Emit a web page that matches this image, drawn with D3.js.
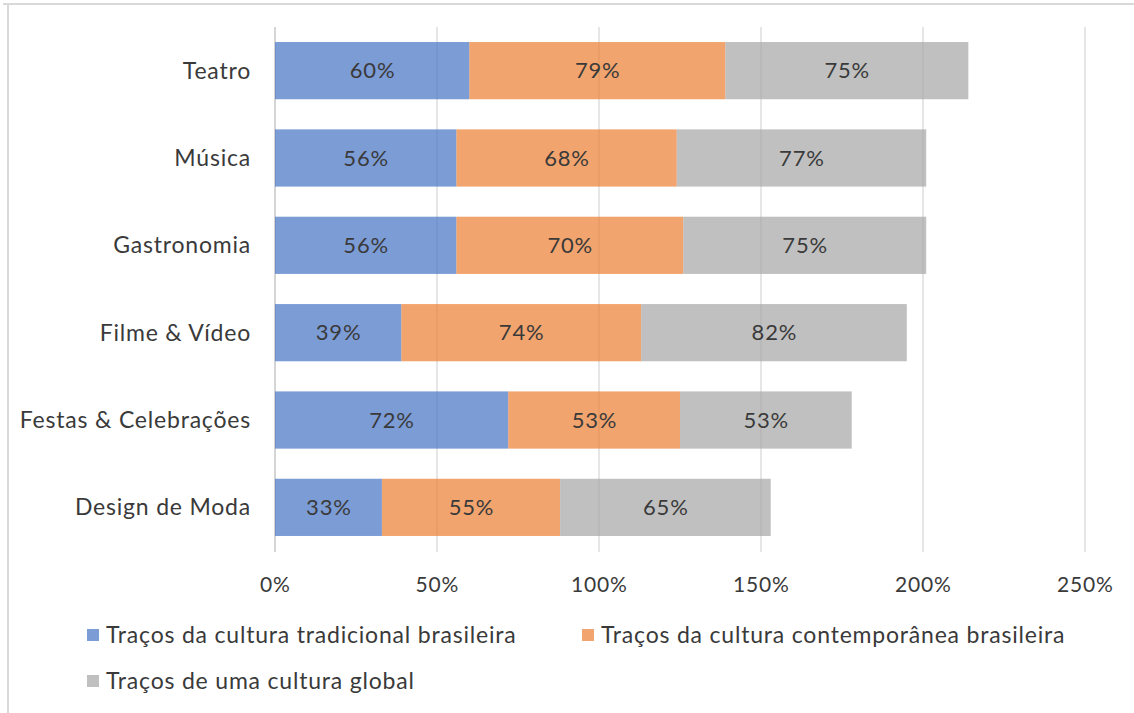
<!DOCTYPE html>
<html>
<head>
<meta charset="utf-8">
<script src="https://cdn.jsdelivr.net/npm/d3@7"></script>
<style>
  html, body { margin: 0; padding: 0; background: #fff; }
  svg { display: block; font-family: Lato, "Open Sans", sans-serif; }
  text { letter-spacing: 0.8px; }
</style>
</head>
<body>
<svg id="chart" width="1134" height="713"></svg>
<script>
// Categories, top to bottom
const categories = ["Teatro", "Música", "Gastronomia", "Filme & Vídeo", "Festas & Celebrações", "Design de Moda"];
// Series names
const seriesNames = [
  "Traços da cultura tradicional brasileira",
  "Traços da cultura contemporânea brasileira",
  "Traços de uma cultura global"
];
// Values (%) per series, aligned with categories
const tradicional = [60, 56, 56, 39, 72, 33];
const contemporanea = [79, 68, 70, 74, 53, 55];
const global = [75, 77, 75, 82, 53, 65];
// Axis ticks (%)
const xTicks = [0, 50, 100, 150, 200, 250];

const colors = ["#4472C4", "#ED7D31", "#A5A5A5"];
const barOpacity = 0.7;
const textColor = "#3a3a3a";

const svg = d3.select("#chart");
const W = 1134, H = 713;

// chart frame
svg.append("line").attr("x1", 3).attr("x2", W).attr("y1", 4).attr("y2", 4)
  .attr("stroke", "#d9d9d9").attr("stroke-width", 2);
svg.append("line").attr("x1", 8).attr("x2", 8).attr("y1", 4).attr("y2", H)
  .attr("stroke", "#d9d9d9").attr("stroke-width", 2);

const plot = { left: 275, right: 1085, top: 27, bottom: 551 };

const x = d3.scaleLinear().domain([0, 250]).range([plot.left, plot.right]);
const y = d3.scaleBand().domain(categories).range([plot.top, plot.bottom]).paddingInner(0.345).paddingOuter(0.172);

const rows = categories.map((c, i) => ({
  category: c,
  tradicional: tradicional[i],
  contemporanea: contemporanea[i],
  global: global[i]
}));
const keys = ["tradicional", "contemporanea", "global"];
const stacked = d3.stack().keys(keys)(rows);

// vertical gridlines
svg.append("g").selectAll("line").data(xTicks).join("line")
  .attr("x1", d => x(d)).attr("x2", d => x(d))
  .attr("y1", plot.top).attr("y2", plot.bottom + 1)
  .attr("stroke", d => d === 0 ? "#bfbfbf" : "#d9d9d9")
  .attr("stroke-width", 1.3);

// stacked bars
const layers = svg.append("g").selectAll("g").data(stacked).join("g")
  .attr("fill", (d, i) => colors[i]).attr("fill-opacity", barOpacity);
layers.selectAll("rect").data(d => d).join("rect")
  .attr("x", d => x(d[0]))
  .attr("width", d => x(d[1]) - x(d[0]))
  .attr("y", d => y(d.data.category))
  .attr("height", y.bandwidth());

// value labels
const labels = svg.append("g").attr("font-size", 22).attr("fill", textColor).attr("text-anchor", "middle");
stacked.forEach(layer => {
  layer.forEach(d => {
    labels.append("text")
      .attr("x", (x(d[0]) + x(d[1])) / 2 + 0.4)
      .attr("y", y(d.data.category) + y.bandwidth() / 2)
      .attr("dy", "0.35em")
      .text((d[1] - d[0]) + "%");
  });
});

// category axis labels
svg.append("g").attr("font-size", 23).attr("fill", textColor).attr("text-anchor", "end")
  .selectAll("text").data(categories).join("text")
  .attr("x", 251)
  .attr("y", d => y(d) + y.bandwidth() / 2)
  .attr("dy", "0.35em")
  .text(d => d);

// x tick labels
svg.append("g").attr("font-size", 21).attr("fill", textColor).attr("text-anchor", "middle")
  .selectAll("text").data(xTicks).join("text")
  .attr("x", d => x(d) + 0.4)
  .attr("y", 585)
  .attr("dy", "0.35em")
  .text(d => d + "%");

// legend
const legendPos = [
  { x: 87, y: 635 },
  { x: 582, y: 635 },
  { x: 87, y: 681 }
];
const legend = svg.append("g").selectAll("g").data(seriesNames).join("g")
  .attr("transform", (d, i) => `translate(${legendPos[i].x},${legendPos[i].y})`);
legend.append("rect")
  .attr("x", 0).attr("y", -6).attr("width", 12).attr("height", 12)
  .attr("fill", (d, i) => colors[i]).attr("fill-opacity", barOpacity);
legend.append("text")
  .attr("x", 19).attr("dy", "0.35em")
  .attr("font-size", 23).attr("fill", textColor)
  .text(d => d);
</script>
</body>
</html>
